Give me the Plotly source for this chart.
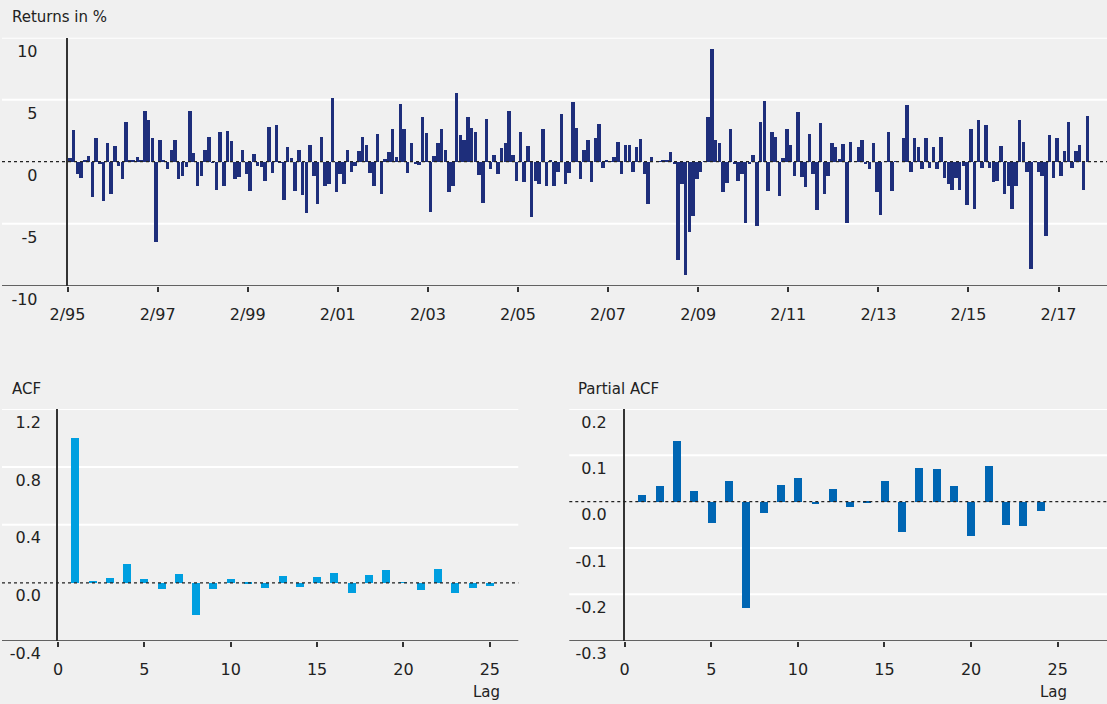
import numpy as np
import plotly.graph_objects as go


FONT = "DejaVu Sans"
TEXT_COLOR = "#222222"
BACKGROUND = "#f0f0f0"
AXIS_COLOR = "#333333"
RETURNS_COLOR = "#1e2e7b"
ACF_COLOR = "#009fe0"
PACF_COLOR = "#0066b3"

# monthly returns in %, starting 2/95
RETURNS = [
    0.3, 2.55, -0.95, -1.3, 0.2, 0.5, -2.8, 1.9, -0.1, -3.15, 1.5, -2.55,
    1.3, -0.3, -1.4, 3.2, 0.2, 0.2, 0.4, 0.2, 4.1, 3.35, 1.9, -6.45,
    1.75, 0.2, -0.6, 1.0, 1.8, -1.35, -1.1, -0.4, 4.1, 0.7, -1.9, -1.15,
    1.0, 2.05, -0.05, -2.25, 2.45, -1.95, 2.5, 1.7, -1.35, -1.2,
    0.95, -1.0, -2.35, 0.65, -0.35, -0.4, -1.55, 2.85, -0.85, 3.0, -0.05, -3.1,
    1.2, 0.3, -2.3, 1.0, -2.7, -4.15, 1.35, -1.15, -3.4, 2.05, -1.95, -1.8,
    5.2, -2.4, -0.95, -1.8, 0.95, -0.8, -0.3, 0.9, 2.05, 1.4, -0.9, -1.95,
    2.25, -2.55, 0.25, 0.8, 2.65, 0.4, 4.65, 2.65, -0.9, 1.5,
    -0.1, -0.25, 3.65, 2.35, -4.05, 0.5, 1.5, 2.7, 0.95, -2.45, -1.95, 5.6,
    2.2, 1.75, 3.6, 2.75, 2.4, -1.05, -3.3, 3.45, -0.6, 0.55, -0.95, 1.1,
    1.5, 4.15, 0.6, -1.55, 2.4, -1.6, 1.3, -4.45, -1.55, -1.8, 2.7, -1.95,
    0.1, -1.95, -0.8, 3.85, -1.75, -0.85, 4.8, 2.75, -1.4, 1.0, 1.75,
    -1.65, 1.95, 3.1, -0.5, 0.15, 0.05, 0.4, 1.6, -1.0, 1.4, 1.4, -0.8,
    1.25, 1.85, -0.95, -3.4, 0.4, 0.0, 0.08, 0.2, 0.1, 0.8, -0.2, -7.9,
    -1.75, -9.15, -5.65, -4.35, -1.35, -0.8, 0.05, 3.6, 9.15, 1.75, 1.55, -2.4,
    -1.7, 2.65, -0.2, -1.5, -0.95, -4.9, -0.15, 0.6, -5.2, 3.25, 4.95,
    -2.3, 2.4, 2.0, -2.75, 0.35, 2.65, 1.35, -1.15, 4.0, -1.2, -2.05, 2.25,
    -1.0, -3.9, 3.15, -2.55, -1.15, 1.5, 1.25, 0.25, 1.45, -4.95, 1.65, 0.0,
    1.25, 1.8, -0.15, -0.6, 1.5, -2.45, -4.25, 0.0, 2.4, -2.3, 0.08, 0.0,
    1.95, 4.6, -0.8, 1.95, 1.2, -0.6, 1.9, -0.45, 1.2, -0.6, 2.0,
    -1.25, -1.75, -2.25, -1.25, -2.25, -0.3, -3.5, 2.7, -3.8, 3.35, -0.45, 2.95,
    -0.45, -1.65, -1.55, 1.3, -2.6, -1.95, -3.75, -1.95, 3.35, 1.6, -0.8, -8.6,
    0.08, -0.8, -1.1, -6.0, 2.2, -1.25, 1.9, -1.15, 0.9, 3.25, -0.45, 0.85,
    1.4, -2.25, 3.75,
]
DATE_TICK_LABELS = [
    "2/95", "2/97", "2/99", "2/01", "2/03", "2/05",
    "2/07", "2/09", "2/11", "2/13", "2/15", "2/17",
]
RETURN_TICKS = [-10, -5, 0, 5, 10]
RETURN_TICK_LABELS = ["-10", "-5", "0", "5", "10"]

ACF_LAGS = list(range(1, 26))
ACF_VALUES = [
    1.0, 0.01, 0.03, 0.13, 0.025, -0.045, 0.06, -0.225, -0.045, 0.025,
    -0.01, -0.035, 0.05, -0.03, 0.04, 0.065, -0.07, 0.053, 0.09, 0.005,
    -0.053, 0.094, -0.07, -0.035, -0.02,
]
ACF_TICKS = [-0.4, 0.0, 0.4, 0.8, 1.2]
ACF_TICK_LABELS = ["-0.4", "0.0", "0.4", "0.8", "1.2"]

PACF_LAGS = list(range(1, 25))
PACF_VALUES = [
    0.015, 0.034, 0.131, 0.023, -0.047, 0.044, -0.229, -0.025, 0.036, 0.051,
    -0.005, 0.028, -0.011, -0.002, 0.044, -0.065, 0.073, 0.071, 0.034, -0.075,
    0.076, -0.05, -0.052, -0.02,
]
PACF_TICKS = [-0.3, -0.2, -0.1, 0.0, 0.1, 0.2]
PACF_TICK_LABELS = ["-0.3", "-0.2", "-0.1", "0.0", "0.1", "0.2"]

LAG_TICKS = [0, 5, 10, 15, 20, 25]

WIDTH, HEIGHT = 1107, 704


def px_x(value):
    return value / WIDTH


def px_y(value):
    return 1 - value / HEIGHT


def add_panel_lines(figure, yref, ticks, x_left, x_right):
    # white grid, dotted zero line and black base line reach past the y axis
    bottom = min(ticks)
    for tick in ticks:
        if tick == 0:
            line = {"color": "#222222", "width": 1.3, "dash": "3px,3px"}
            layer = "above"
        elif tick == bottom:
            line = {"color": AXIS_COLOR, "width": 1.5}
            layer = "above"
        else:
            line = {"color": "white", "width": 2}
            layer = "below"
        figure.add_shape(
            type="line",
            xref="paper",
            yref=yref,
            x0=x_left,
            x1=x_right,
            y0=tick,
            y1=tick,
            line=line,
            layer=layer,
        )


def label(figure, text, x, y, anchor="left"):
    figure.add_annotation(
        text=text,
        xref="paper",
        yref="paper",
        x=x,
        y=y,
        xanchor=anchor,
        yanchor="middle",
        showarrow=False,
        font={"size": 15, "color": TEXT_COLOR, "family": FONT},
    )


figure = go.Figure()

figure.add_trace(
    go.Bar(
        x=np.arange(len(RETURNS)),
        y=RETURNS,
        width=0.92,
        offset=0.04,
        marker={"color": RETURNS_COLOR, "line": {"width": 0}},
        xaxis="x",
        yaxis="y",
    )
)
figure.add_trace(
    go.Bar(
        x=ACF_LAGS,
        y=ACF_VALUES,
        width=0.46,
        marker={"color": ACF_COLOR, "line": {"width": 0}},
        xaxis="x2",
        yaxis="y2",
    )
)
figure.add_trace(
    go.Bar(
        x=PACF_LAGS,
        y=PACF_VALUES,
        width=0.46,
        marker={"color": PACF_COLOR, "line": {"width": 0}},
        xaxis="x3",
        yaxis="y3",
    )
)

tick_font = {"size": 16, "color": TEXT_COLOR, "family": FONT}
x_common = {
    "showgrid": False,
    "zeroline": False,
    "showline": False,
    "automargin": False,
    "ticks": "outside",
    "ticklen": 5,
    "tickwidth": 1.5,
    "tickcolor": AXIS_COLOR,
    "tickfont": tick_font,
    "ticklabelstandoff": 9,
}
y_common = {
    "showgrid": False,
    "zeroline": False,
    "showline": True,
    "automargin": False,
    "linecolor": AXIS_COLOR,
    "linewidth": 1.5,
    "ticks": "",
    "tickfont": tick_font,
}

figure.update_layout(
    width=WIDTH,
    height=HEIGHT,
    margin={"l": 0, "r": 0, "t": 0, "b": 0, "pad": 0},
    paper_bgcolor=BACKGROUND,
    plot_bgcolor="rgba(0,0,0,0)",
    showlegend=False,
    bargap=0,
    xaxis={
        **x_common,
        "domain": [px_x(67.5), 1.0],
        "range": [0, 276.9],
        "tickvals": list(range(0, 24 * len(DATE_TICK_LABELS), 24)),
        "ticktext": DATE_TICK_LABELS,
        "anchor": "y",
    },
    yaxis={
        **y_common,
        "domain": [px_y(285.7), px_y(37.7)],
        "range": [-10, 10],
        "tickvals": RETURN_TICKS,
        "ticktext": RETURN_TICK_LABELS,
        "ticklabelshift": 14,
        "ticklabelstandoff": 25,
        "anchor": "x",
    },
    xaxis2={
        **x_common,
        "domain": [px_x(58), px_x(518.3)],
        "range": [0, 26.65],
        "tickvals": LAG_TICKS,
        "anchor": "y2",
    },
    yaxis2={
        **y_common,
        "domain": [px_y(640.7), px_y(409)],
        "range": [-0.4, 1.2],
        "tickvals": ACF_TICKS,
        "ticktext": ACF_TICK_LABELS,
        "ticklabelshift": 13,
        "ticklabelstandoff": 12,
        "anchor": "x2",
    },
    xaxis3={
        **x_common,
        "domain": [px_x(624.7), 1.0],
        "range": [0, 27.85],
        "tickvals": LAG_TICKS,
        "anchor": "y3",
    },
    yaxis3={
        **y_common,
        "domain": [px_y(640.7), px_y(409)],
        "range": [-0.3, 0.2],
        "tickvals": PACF_TICKS,
        "ticktext": PACF_TICK_LABELS,
        "ticklabelshift": 13,
        "ticklabelstandoff": 13,
        "anchor": "x3",
    },
)

add_panel_lines(figure, "y", RETURN_TICKS, px_x(2), 1.0)
add_panel_lines(figure, "y2", ACF_TICKS, px_x(2), px_x(518.3))
add_panel_lines(figure, "y3", PACF_TICKS, px_x(569.3), 1.0)

label(figure, "Returns in %", px_x(10), px_y(17))
label(figure, "ACF", px_x(10), px_y(389))
label(figure, "Partial ACF", px_x(576.3), px_y(389))
label(figure, "Lag", px_x(486.7), px_y(691.7), anchor="center")
label(figure, "Lag", px_x(1053.7), px_y(691.7), anchor="center")

figure.write_html(
    "out.html",
    config={"displayModeBar": False},
    post_script="document.body.style.margin = '0';",
)
